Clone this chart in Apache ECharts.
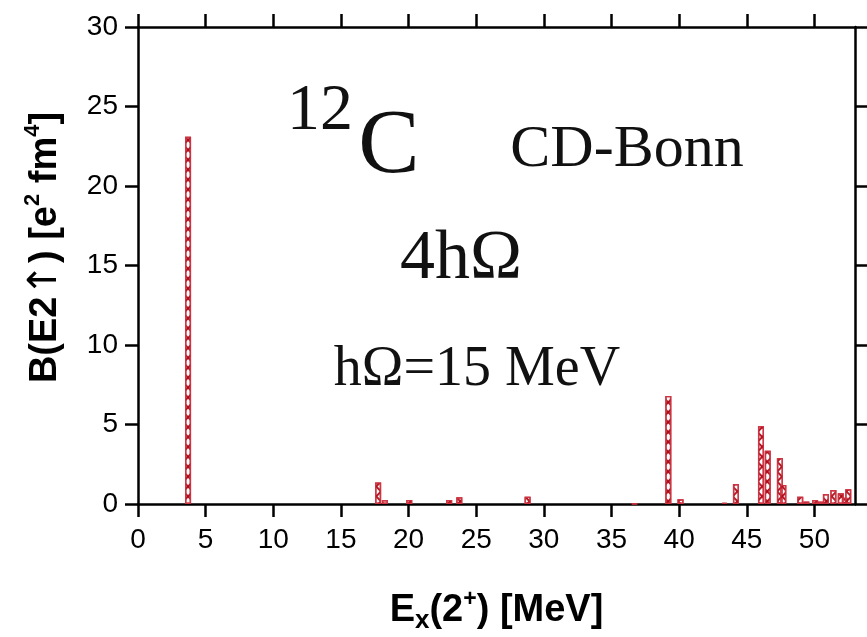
<!DOCTYPE html>
<html>
<head>
<meta charset="utf-8">
<script src="https://cdn.jsdelivr.net/npm/echarts@6/dist/echarts.min.js"></script>
<style>
  html, body { margin: 0; padding: 0; background: #fff; }
  #main { width: 867px; height: 637px; }
</style>
</head>
<body>
<div id="main"></div>
<script>
// excitation energies of the 2+ states (MeV) and their B(E2) strengths (e^2 fm^4)
var energy   = [3.7, 17.75, 18.25, 20.05, 23.0, 23.75, 28.8, 36.7, 39.2, 40.1, 43.35, 44.2,
                46.05, 46.55, 47.45, 47.7, 48.95, 49.4, 50.05, 50.45, 50.85, 51.4, 51.95, 52.25, 52.5];
var strength = [23.1, 1.35, 0.25, 0.25, 0.25, 0.42, 0.46, 0.03, 6.8, 0.3, 0.08, 1.25,
                4.9, 3.35, 2.9, 1.2, 0.46, 0.15, 0.25, 0.15, 0.63, 0.88, 0.67, 0.4, 0.92];
var xTicks = [0, 5, 10, 15, 20, 25, 30, 35, 40, 45, 50];
var yTicks = [0, 5, 10, 15, 20, 25, 30];

(function () {
    var myChart = echarts.init(document.getElementById('main'));
    var barData = energy.map(function (e, i) { return [e, strength[i]]; });
    var red = 'rgba(170,5,20,0.9)';
    var axisCol = '#000';

    function xAx(pos, withLabel) {
        return {
            type: 'value', min: 0, max: 53, position: pos, gridIndex: 0,
            axisLine: { show: true, onZero: false, lineStyle: { color: axisCol, width: 2.5 } },
            axisTick: { show: true, length: 13, customValues: xTicks, lineStyle: { color: axisCol, width: 2.5 } },
            axisLabel: {
                show: withLabel, customValues: xTicks, margin: 22,
                fontSize: 28, color: '#000', fontFamily: 'Liberation Sans'
            },
            splitLine: { show: false }
        };
    }
    function yAx(pos, withLabel) {
        return {
            type: 'value', min: 0, max: 30, position: pos, gridIndex: 0,
            axisLine: { show: true, onZero: false, lineStyle: { color: axisCol, width: 2.5 } },
            axisTick: { show: true, length: 13, customValues: yTicks, lineStyle: { color: axisCol, width: 2.5 } },
            axisLabel: {
                show: withLabel, customValues: yTicks, margin: 20,
                fontSize: 28, color: '#000', fontFamily: 'Liberation Sans'
            },
            splitLine: { show: false }
        };
    }

    var xBottom = xAx('bottom', true);
    xBottom.name = '{b|E}{sub|x}{b|(2}{sup|+}{b|) [MeV]}';
    xBottom.nameLocation = 'middle';
    xBottom.nameGap = 84;
    xBottom.nameTextStyle = {
        rich: {
            b:   { fontSize: 38, fontWeight: 'bold', fontFamily: 'Liberation Sans', color: '#000', lineHeight: 46 },
            sub: { fontSize: 26, fontWeight: 'bold', fontFamily: 'Liberation Sans', color: '#000', verticalAlign: 'bottom', lineHeight: 26 },
            sup: { fontSize: 23, fontWeight: 'bold', fontFamily: 'Liberation Sans', color: '#000', verticalAlign: 'top', lineHeight: 23 }
        }
    };

    var yLeft = yAx('left', true);
    yLeft.name = '{b|B(E2}{a|↑}{b|) [e}{sup|2}{b| fm}{sup|4}{b|]}';
    yLeft.nameLocation = 'middle';
    yLeft.nameGap = 68;
    yLeft.nameTextStyle = {
        padding: [0, 0, 0, 36],
        rich: {
            b:   { fontSize: 38, fontWeight: 'bold', fontFamily: 'Liberation Sans', color: '#000', lineHeight: 48 },
            a:   { fontSize: 40, fontWeight: 'normal', fontFamily: 'DejaVu Sans', color: '#000', lineHeight: 48 },
            sup: { fontSize: 22, fontWeight: 'bold', fontFamily: 'Liberation Sans', color: '#000', verticalAlign: 'top', lineHeight: 22 }
        }
    };

    function hatchSeries(rot, bg) {
        return {
            type: 'bar',
            data: barData,
            barWidth: 6,
            barGap: '-100%',
            silent: true,
            itemStyle: {
                color: bg,
                borderColor: 'rgba(205,50,65,0.65)',
                borderWidth: 1.4,
                decal: {
                    symbol: 'rect',
                    color: red,
                    backgroundColor: bg,
                    dashArrayX: [1, 0],
                    dashArrayY: [1.2, 4.5],
                    rotation: rot
                }
            }
        };
    }

    var serif = 'Liberation Serif';
    function label(txt, x, y, size) {
        return {
            type: 'text', x: x, y: y, silent: true,
            style: {
                text: txt, fontSize: size, fontFamily: serif, fill: '#111',
                align: 'center', verticalAlign: 'middle',
                textShadowColor: 'rgba(0,0,0,0.45)', textShadowOffsetX: 2, textShadowOffsetY: 1, textShadowBlur: 0
            }
        };
    }

    var option = {
        animation: false,
        backgroundColor: '#fff',
        grid: { left: 138, right: 12, top: 27, bottom: 133, outerBoundsMode: 'none', containLabel: false },
        xAxis: [xBottom, xAx('top', false)],
        yAxis: [yLeft, yAx('right', false)],
        series: [hatchSeries(Math.PI / 4, '#fff'), hatchSeries(-Math.PI / 4, 'rgba(0,0,0,0)')],
        graphic: [
            label('12', 320, 112, 66),
            label('C', 389, 148, 92),
            label('CD-Bonn', 627, 150, 60),
            label('4hΩ', 461, 260, 70),
            label('hΩ=15 MeV', 477, 370, 56)
        ]
    };
    myChart.setOption(option);
    window.addEventListener('resize', function () {
        myChart.resize();
    });
})();
</script>
</body>
</html>
